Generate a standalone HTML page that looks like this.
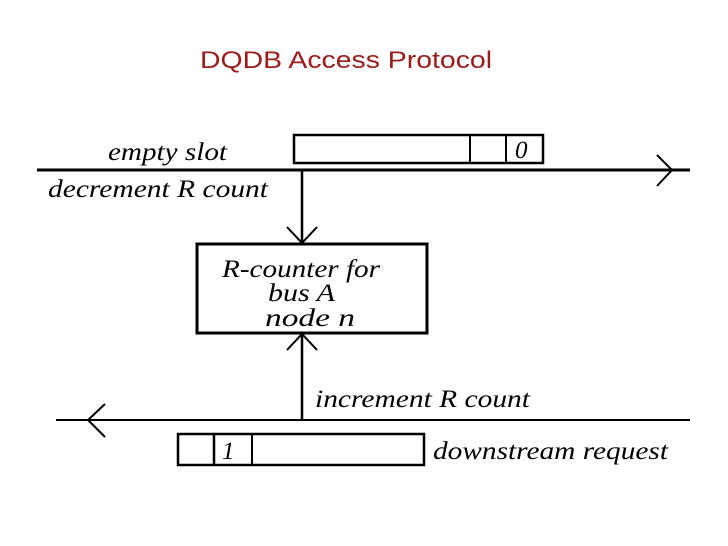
<!DOCTYPE html>
<html><head><style>
body{margin:0;background:#fff;}
svg{display:block}
.t{font-family:"Liberation Serif",serif;font-style:italic;font-size:25px;fill:#000}
</style></head><body>
<svg width="728" height="546" viewBox="0 0 728 546">
<text x="200" y="68" font-family="Liberation Sans, sans-serif" font-size="24" fill="#9b1b1b" textLength="292" lengthAdjust="spacingAndGlyphs">DQDB Access Protocol</text>
<g fill="none" stroke="#000">
<rect x="294" y="135" width="249" height="28" stroke-width="2.5"/>
<line x1="470" y1="135" x2="470" y2="163" stroke-width="2"/>
<line x1="506" y1="135" x2="506" y2="163" stroke-width="2"/>
<line x1="37" y1="170" x2="690" y2="170" stroke-width="3"/>
<polyline points="657,155 672,170 657,186" stroke-width="2"/>
<line x1="302" y1="170" x2="302" y2="243" stroke-width="2.5"/>
<polyline points="287,227 302,243 317,227" stroke-width="2"/>
<rect x="197" y="244" width="230" height="89" stroke-width="3"/>
<line x1="302" y1="334" x2="302" y2="420" stroke-width="2.5"/>
<polyline points="287,350 302,334 317,350" stroke-width="2"/>
<line x1="56" y1="420" x2="690" y2="420" stroke-width="2"/>
<polyline points="105,404 88,420 105,437" stroke-width="2"/>
<rect x="178" y="434" width="246" height="31" stroke-width="2.5"/>
<line x1="214" y1="434" x2="214" y2="465" stroke-width="2.5"/>
<line x1="252" y1="434" x2="252" y2="465" stroke-width="2"/>
</g>
<text class="t" x="108" y="160" textLength="119" lengthAdjust="spacingAndGlyphs">empty slot</text>
<text class="t" x="515" y="158">0</text>
<text class="t" x="48" y="197" textLength="220" lengthAdjust="spacingAndGlyphs">decrement R count</text>
<text class="t" x="222" y="277" textLength="158" lengthAdjust="spacingAndGlyphs">R-counter for</text>
<text class="t" x="268" y="301" textLength="67" lengthAdjust="spacingAndGlyphs">bus A</text>
<text class="t" x="265" y="326" textLength="90" lengthAdjust="spacingAndGlyphs">node n</text>
<text class="t" x="315" y="407" textLength="215" lengthAdjust="spacingAndGlyphs">increment R count</text>
<text class="t" x="222" y="459">1</text>
<text class="t" x="433" y="459" textLength="235" lengthAdjust="spacingAndGlyphs">downstream request</text>
</svg>
</body></html>
